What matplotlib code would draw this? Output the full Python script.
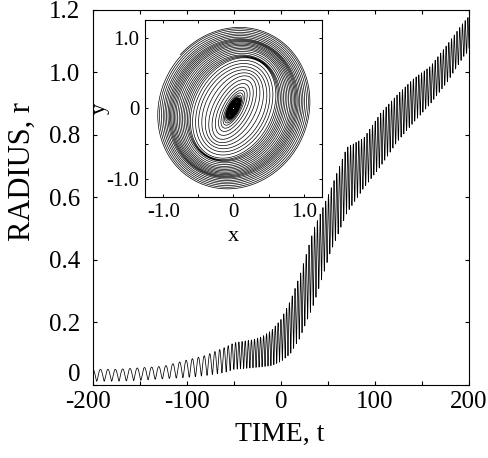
import numpy as np
import matplotlib
matplotlib.use("Agg")
import matplotlib.pyplot as plt
from matplotlib.ticker import MultipleLocator
from matplotlib.transforms import ScaledTranslation

plt.rcParams["font.family"] = ["Liberation Serif", "DejaVu Serif"]
plt.rcParams["axes.unicode_minus"] = False

# envelope of the radius oscillation
env_t = [-200, -175, -150, -125, -100, -80, -60, -50, -30, -20, -10, 0, 10, 20, 35, 52, 70, 88, 106, 124, 141, 159, 177, 194, 200]
env_hi = [0.05, 0.05, 0.055, 0.06, 0.08, 0.095, 0.12, 0.135, 0.145, 0.155, 0.175, 0.21, 0.27, 0.35, 0.50, 0.62, 0.76, 0.79, 0.87, 0.93, 0.98, 1.02, 1.09, 1.16, 1.18]
env_lo = [0.012, 0.012, 0.015, 0.02, 0.024, 0.03, 0.04, 0.05, 0.055, 0.058, 0.062, 0.075, 0.10, 0.15, 0.26, 0.42, 0.55, 0.63, 0.70, 0.78, 0.84, 0.90, 0.97, 1.05, 1.07]

# period of the radius wiggle (time units), read at a few times
per_t = [-200, -120, -80, -60, -45, 0, 100, 200]
per_val = [8.0, 7.5, 6.0, 4.5, 3.4, 3.0, 2.9, 2.9]

tilt_deg = 62  # orientation of the inner ellipses in the inset

xticks_main = [-200, -100, 0, 100, 200]
yticks_main = [0, 0.2, 0.4, 0.6, 0.8, 1.0, 1.2]
ticks_inset = [-1.0, 0, 1.0]

# build orbit: ellipse with semi-axes following the envelopes
t = np.arange(-200, 200.001, 0.05)
A = np.interp(t, env_t, env_hi)
B = np.interp(t, env_t, env_lo)
P = np.interp(t, per_t, per_val)
phi = np.pi * np.cumsum(0.05 / P)
u = A * np.cos(phi)
v = B * np.sin(phi)
th = np.deg2rad(tilt_deg)
x = u * np.cos(th) - v * np.sin(th)
y = u * np.sin(th) + v * np.cos(th)
r = np.hypot(x, y)

fig = plt.figure(figsize=(4.88, 4.58), dpi=100)
ax = fig.add_axes([0.1906, 0.1594, 0.7705, 0.8188])
ax.plot(t, r, color="black", lw=0.55)
ax.set_xlim(-200, 200)
ax.set_ylim(0, 1.2)
ax.set_xticks(xticks_main)
ax.set_xticklabels([str(v_) for v_ in xticks_main])
ax.xaxis.set_minor_locator(MultipleLocator(50))
ax.set_yticks(yticks_main)
ax.set_yticklabels(["0"] + ["%.1f" % v_ for v_ in yticks_main[1:]])
ax.tick_params(which="both", direction="in", top=True, right=True, length=3, width=0.8)
ax.tick_params(axis="x", labelsize=18, pad=4)
ax.tick_params(axis="y", labelsize=18, pad=9)
for s in ax.spines.values():
    s.set_linewidth(0.8)

# the scanned figure has the "0" raised and "-200" nudged left
ylab0 = ax.get_yticklabels()[0]
ylab0.set_transform(ylab0.get_transform() + ScaledTranslation(0, 0.12, fig.dpi_scale_trans))
xlab0 = ax.get_xticklabels()[0]
xlab0.set_transform(xlab0.get_transform() + ScaledTranslation(-0.05, 0, fig.dpi_scale_trans))

ax.set_xlabel("TIME, t", fontsize=20)
ax.set_ylabel("RADIUS, r", fontsize=22)
ax.xaxis.set_label_coords(0.496, -0.099)
ax.yaxis.set_label_coords(-0.15, 0.57)

# inset: phase portrait
ax2 = fig.add_axes([0.2971, 0.5699, 0.3627, 0.3865])
ax2.plot(x, y, color="black", lw=0.5)
ax2.set_xlim(-1.26, 1.26)
ax2.set_ylim(-1.26, 1.26)
ax2.set_xticks(ticks_inset)
ax2.set_yticks(ticks_inset)
ax2.set_xticklabels(["-1.0", "0", "1.0"])
ax2.set_yticklabels(["-1.0", "0", "1.0"])
ax2.xaxis.set_minor_locator(MultipleLocator(0.5))
ax2.yaxis.set_minor_locator(MultipleLocator(0.5))
ax2.tick_params(which="both", direction="in", top=True, right=True, length=2.5, width=0.7)
ax2.tick_params(axis="x", labelsize=15, pad=4.5)
ax2.tick_params(axis="y", labelsize=15, pad=4)
ax2.set_xlabel("x", fontsize=16)
ax2.set_ylabel("y", fontsize=16)
ax2.xaxis.set_label_coords(0.5, -0.17)
ax2.yaxis.set_label_coords(-0.2, 0.5)

fig.savefig("out.png", dpi=100)
